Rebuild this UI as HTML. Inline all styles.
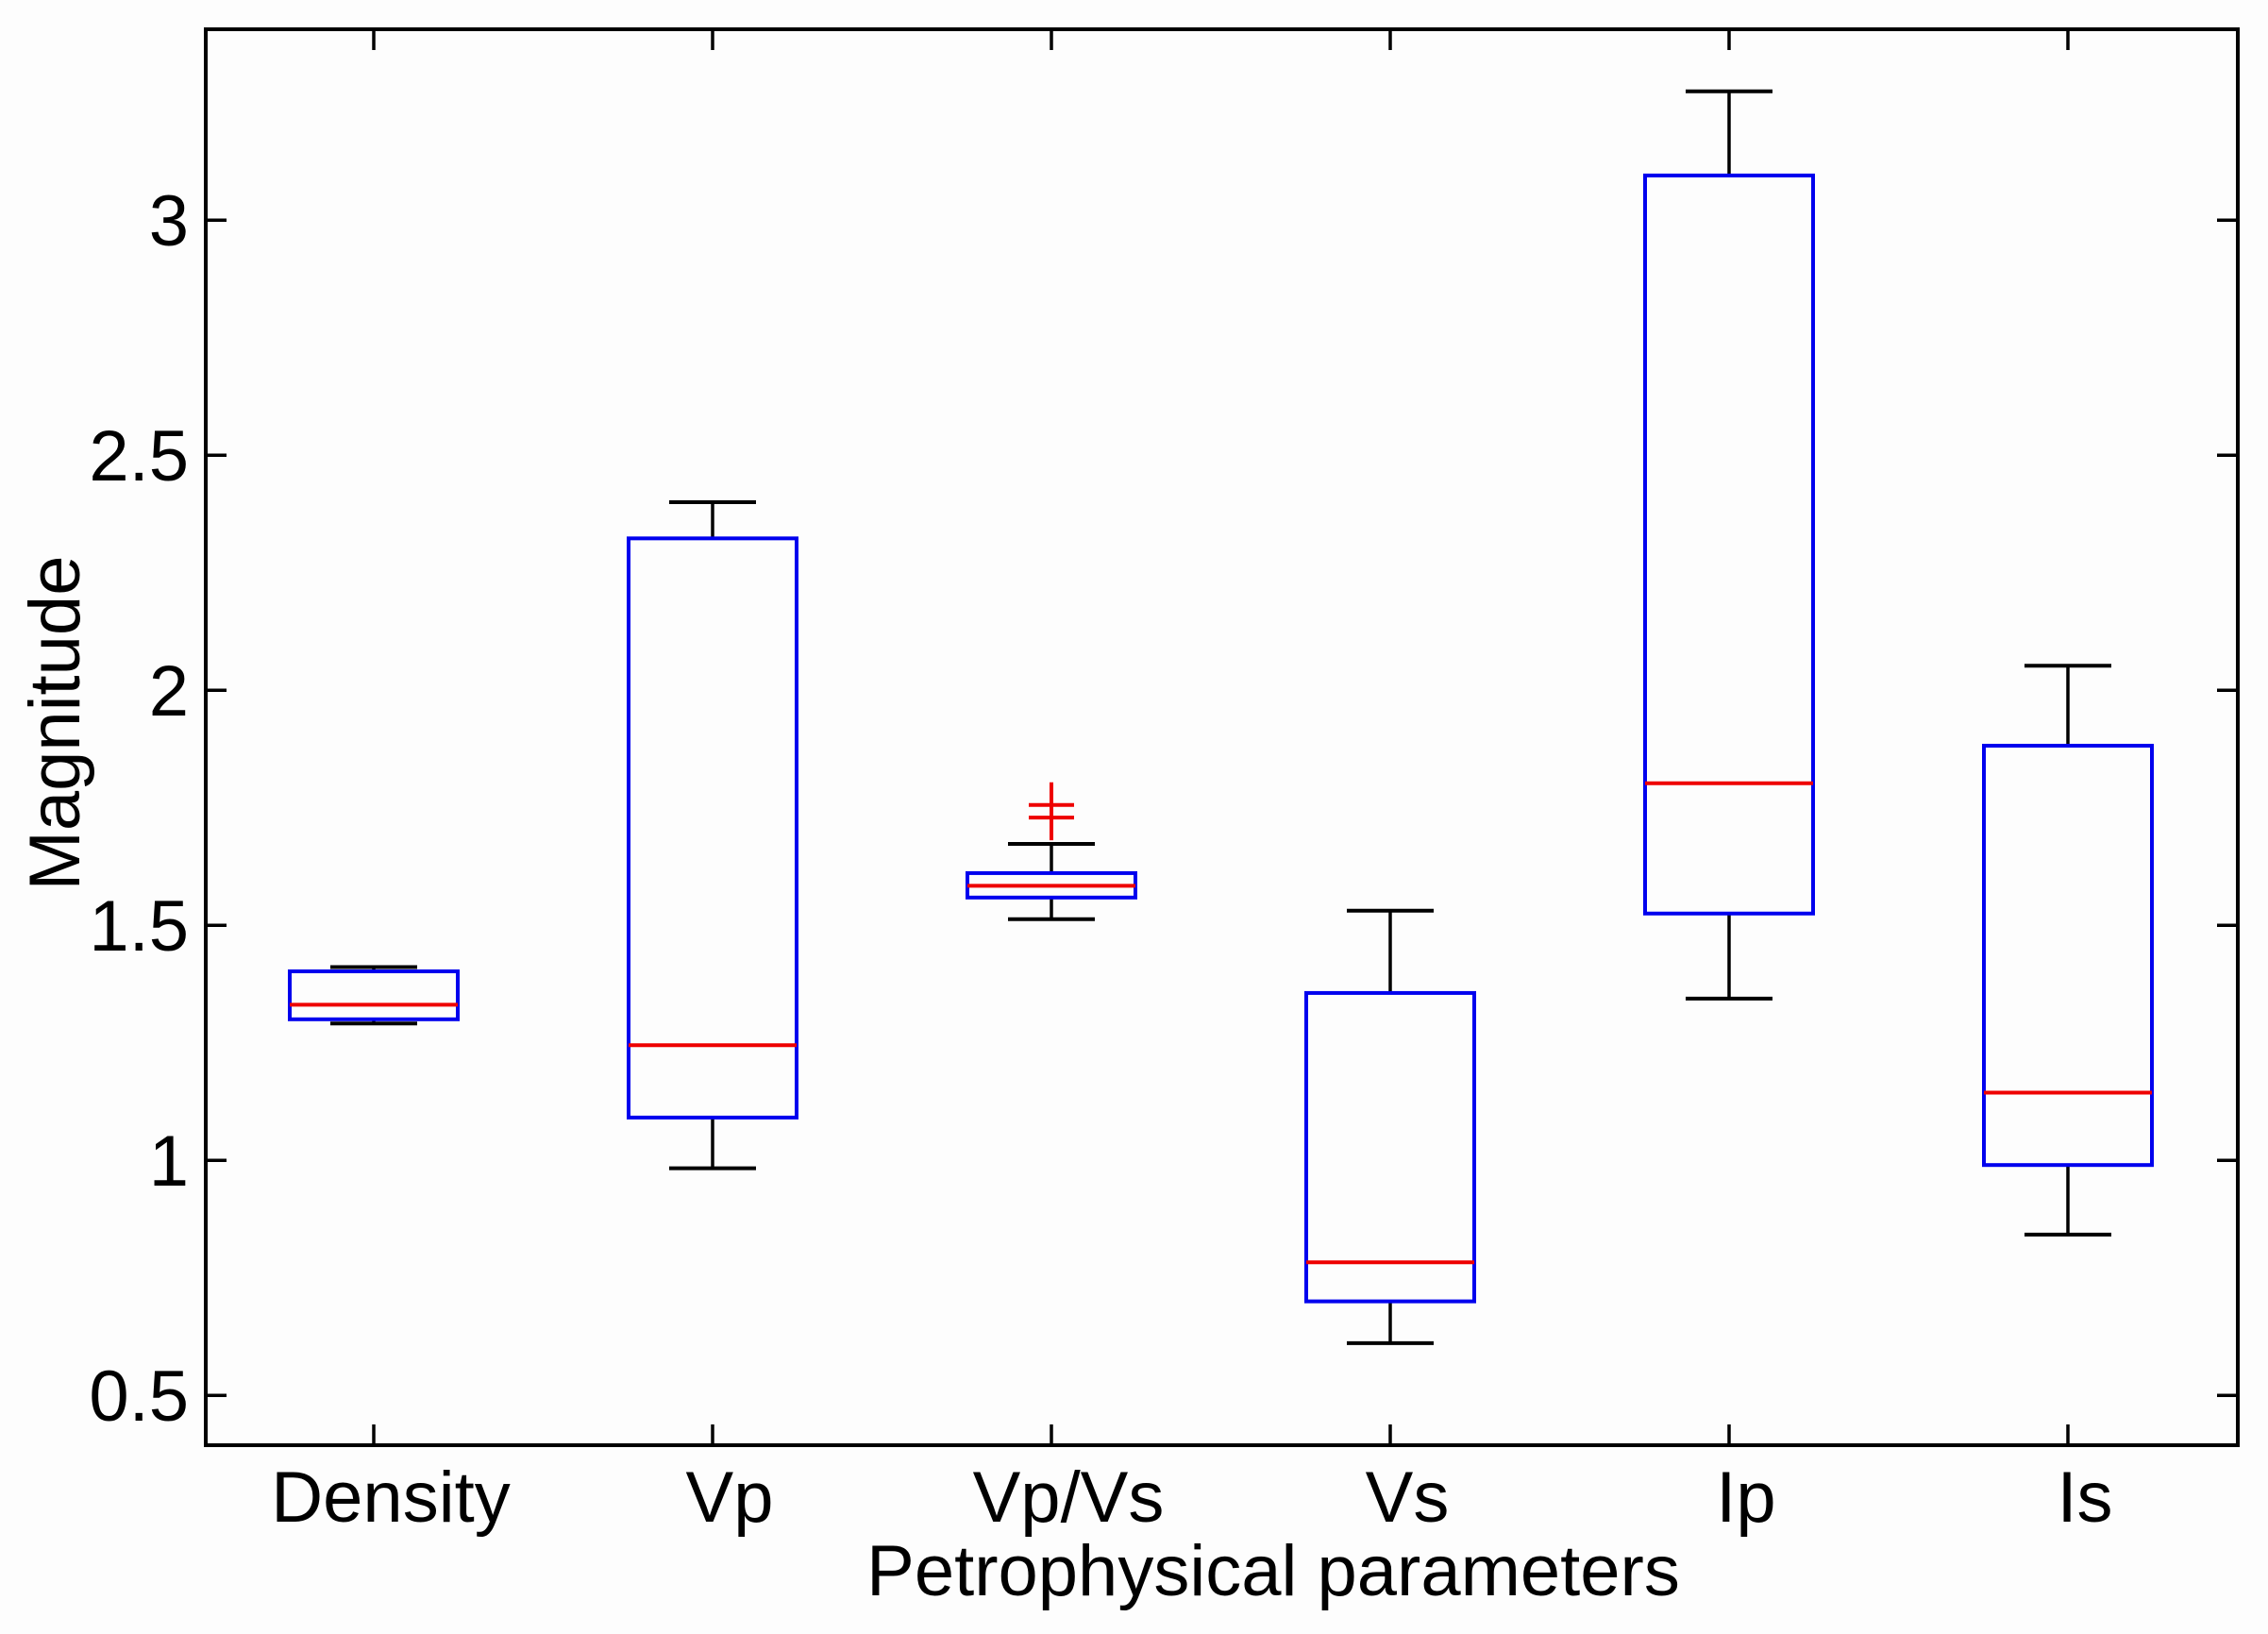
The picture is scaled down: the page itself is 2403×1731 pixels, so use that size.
<!DOCTYPE html>
<html><head><meta charset="utf-8"><style>
html,body{margin:0;padding:0;background:#fff;}
svg{display:block;font-family:"Liberation Sans",Arial,sans-serif;}
</style></head><body>
<svg id="chart" width="2403" height="1731" viewBox="0 0 2403 1731">
<rect x="0" y="0" width="2403" height="1731" fill="#fdfdfd"/>
<g id="marks"></g>
</svg>
<script>
const categories = ["Density","Vp","Vp/Vs","Vs","Ip","Is"];
const whiskerHigh = [1.411, 2.40, 1.673, 1.531, 3.274, 2.052];
const q3 = [1.402, 2.323, 1.611, 1.356, 3.095, 1.882];
const medians = [1.331, 1.245, 1.584, 0.783, 1.802, 1.144];
const q1 = [1.300, 1.091, 1.559, 0.700, 1.525, 0.990];
const whiskerLow = [1.291, 0.983, 1.513, 0.611, 1.344, 0.842];
const outlierCat = [2, 2];
const outlierVal = [1.756, 1.729];
const yTicks = [0.5, 1, 1.5, 2, 2.5, 3];
const yTickLabels = ["0.5","1","1.5","2","2.5","3"];

const NS = "http://www.w3.org/2000/svg";
const L = 218, R = 2371, T = 31, B = 1531;
const yMin = 0.394, yMax = 3.406;
function yS(v){ return B - (v - yMin) / (yMax - yMin) * (B - T); }
function xS(i){ return 396 + i * 359; }
const g = document.getElementById('marks');
function el(tag, attrs, parent){
  const e = document.createElementNS(NS, tag);
  for (const k in attrs) e.setAttribute(k, attrs[k]);
  (parent || g).appendChild(e);
  return e;
}
const frame = el('rect', {x:L, y:T, width:R-L, height:B-T, fill:'#fdfdfd', stroke:'#000', 'stroke-width':4});



yTicks.forEach((v, i) => {
  const y = yS(v);
  const t1 = el('line', {x1:L, x2:L+22, y1:y, y2:y, stroke:'#000', 'stroke-width':3.5});
  
  
  const t2 = el('line', {x1:R, x2:R-22, y1:y, y2:y, stroke:'#000', 'stroke-width':3.5});
  
  
  const tx = el('text', {x:L-18, y:y+27, 'text-anchor':'end', 'font-size':76, fill:'#000'});
  tx.textContent = yTickLabels[i];
  
  
});

categories.forEach((c, i) => {
  const x = xS(i);
  const t1 = el('line', {x1:x, x2:x, y1:B, y2:B-22, stroke:'#000', 'stroke-width':3.5});
  
  
  const t2 = el('line', {x1:x, x2:x, y1:T, y2:T+22, stroke:'#000', 'stroke-width':3.5});
  
  
  const lab = el('text', {x:x+18, y:1612, 'text-anchor':'middle', 'font-size':76, fill:'#000'});
  lab.textContent = c;
  
  

  const hw = 89, cw = 46;
  const wu = el('line', {x1:x, x2:x, y1:yS(whiskerHigh[i]), y2:yS(q3[i]), stroke:'#000', 'stroke-width':3.5});
  
  
  const wl = el('line', {x1:x, x2:x, y1:yS(q1[i]), y2:yS(whiskerLow[i]), stroke:'#000', 'stroke-width':3.5});
  
  
  const cu = el('line', {x1:x-cw, x2:x+cw, y1:yS(whiskerHigh[i]), y2:yS(whiskerHigh[i]), stroke:'#000', 'stroke-width':4});
  
  
  const cl = el('line', {x1:x-cw, x2:x+cw, y1:yS(whiskerLow[i]), y2:yS(whiskerLow[i]), stroke:'#000', 'stroke-width':4});
  
  
  const bx = el('rect', {x:x-hw, y:yS(q3[i]), width:2*hw, height:yS(q1[i])-yS(q3[i]), fill:'none', stroke:'#0000ee', 'stroke-width':4});
  
  
  const md = el('line', {x1:x-hw, x2:x+hw, y1:yS(medians[i]), y2:yS(medians[i]), stroke:'#ee0000', 'stroke-width':4});
  
  
});

outlierVal.forEach((v, k) => {
  const x = xS(outlierCat[k]), y = yS(v);
  const o = el('path', {d:`M${x-24},${y}H${x+24}M${x},${y-24}V${y+24}`, stroke:'#ee0000', 'stroke-width':4, fill:'none'});
  
  
});

const yt = el('text', {x:0, y:0, transform:'translate(84,766) rotate(-90)', 'text-anchor':'middle', 'font-size':76, fill:'#000'});
yt.textContent = 'Magnitude';


const xt = el('text', {x:1349, y:1690, 'text-anchor':'middle', 'font-size':76, fill:'#000'});
xt.textContent = 'Petrophysical parameters';


</script>
</body></html>
